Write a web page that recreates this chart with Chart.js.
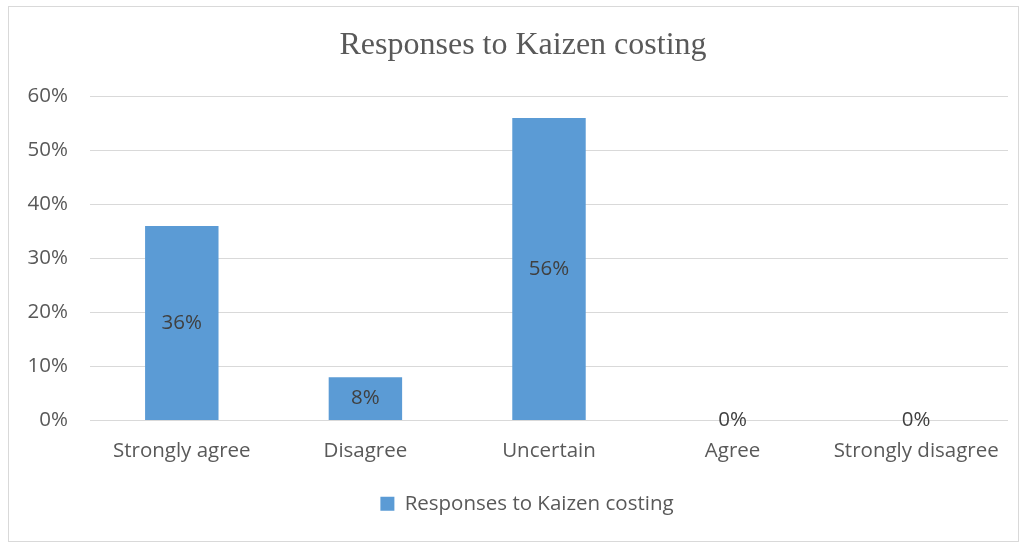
<!DOCTYPE html>
<html>
<head>
<meta charset="utf-8">
<script src="https://cdn.jsdelivr.net/npm/chart.js@4/dist/chart.umd.min.js"></script>
<style>
  html, body { margin: 0; padding: 0; background: #fff; }
  #wrap { width: 1026px; height: 543px; }
</style>
</head>
<body>
<div id="wrap"><canvas id="chart" width="1026" height="543"></canvas></div>
<script>
const categories = ['Strongly agree', 'Disagree', 'Uncertain', 'Agree', 'Strongly disagree'];
const responses = [36, 8, 56, 0, 0];
const yTicks = [0, 10, 20, 30, 40, 50, 60];

const barColor = '#5B9BD5';
const textColor = '#595959';
const sansFont = '"Open Sans", Lato, sans-serif';
const fontSize = 20.5;

// frame around the whole chart, like the Excel chart area border
const framePlugin = {
    id: 'frame',
    afterLayout: (chart) => {
        // Excel centres title and legend on the whole chart area, not on the plot
        chart.titleBlock.left += 19;
        chart.titleBlock.right += 19;
        chart.legend.left += 23;
        chart.legend.right += 23;
    },
    afterDraw: (chart) => {
        const ctx = chart.ctx;
        ctx.save();
        ctx.strokeStyle = '#D9D9D9';
        ctx.lineWidth = 1;
        ctx.strokeRect(8.5, 6.5, 1010, 535);
        ctx.restore();
    }
};

// value labels in the middle of every bar
const valueLabels = {
    id: 'valueLabels',
    afterDatasetsDraw: (chart) => {
        const ctx = chart.ctx;
        ctx.save();
        ctx.font = fontSize + 'px ' + sansFont;
        ctx.fillStyle = '#404040';
        ctx.textAlign = 'center';
        ctx.textBaseline = 'middle';
        chart.getDatasetMeta(0).data.forEach((bar, i) => {
            const y = (bar.y + bar.base) / 2;
            ctx.fillText(responses[i] + '%', bar.x, y);
        });
        ctx.restore();
    }
};

new Chart(document.getElementById('chart'), {
    type: 'bar',
    data: {
        labels: categories,
        datasets: [{
            label: 'Responses to Kaizen costing',
            data: responses,
            backgroundColor: barColor,
            borderWidth: 0,
            categoryPercentage: 1,
            barPercentage: 0.4
        }]
    },
    options: {
        responsive: false,
        animation: false,
        layout: { padding: { top: 10, right: 18, bottom: 19, left: 0 } },
        plugins: {
            title: {
                display: true,
                text: 'Responses to Kaizen costing',
                color: textColor,
                font: { family: '"Liberation Serif", "Times New Roman", serif', size: 32, weight: 'normal' },
                padding: { top: 16, bottom: 32 }
            },
            legend: {
                display: true,
                position: 'bottom',
                labels: {
                    color: textColor,
                    font: { family: sansFont, size: fontSize },
                    boxWidth: 14,
                    boxHeight: 14,
                    padding: 10
                }
            },
            tooltip: { enabled: false }
        },
        scales: {
            x: {
                grid: { display: false, drawTicks: false },
                border: { display: false },
                ticks: {
                    color: textColor,
                    font: { family: sansFont, size: fontSize },
                    padding: 18,
                    maxRotation: 0
                },
                afterFit: (scale) => { scale.height = 63; }
            },
            y: {
                min: 0,
                max: 60,
                afterBuildTicks: (scale) => { scale.ticks = yTicks.map(v => ({ value: v })); },
                grid: { color: '#D9D9D9', lineWidth: 1, drawTicks: false },
                border: { display: false },
                ticks: {
                    color: textColor,
                    font: { family: sansFont, size: fontSize },
                    padding: 22,
                    callback: (v) => v + '%'
                },
                afterFit: (scale) => { scale.width = 90; }
            }
        }
    },
    plugins: [framePlugin, valueLabels]
});
</script>
</body>
</html>
